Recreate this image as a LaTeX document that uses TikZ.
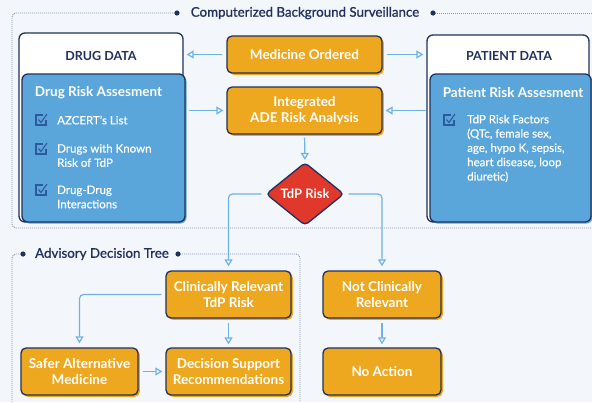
\documentclass[tikz,border=0pt]{standalone}
\usepackage{fontspec}
\setmainfont{Lato}
\usetikzlibrary{arrows.meta,shapes.geometric,calc,shadows}
\definecolor{bg}{HTML}{F3F6FB}
\definecolor{navy}{HTML}{22305E}
\definecolor{orangefill}{HTML}{EEA81F}
\definecolor{bluefill}{HTML}{5AA6DB}
\definecolor{lineblue}{HTML}{6DB3E8}
\definecolor{riskred}{HTML}{E0392B}
\definecolor{framegray}{HTML}{8C9BB5}
\definecolor{chkblue}{HTML}{2D5A9E}
\tikzset{
  orangebox/.style={draw=navy, line width=1.3pt, fill=orangefill, rounded corners=5pt,
    text=white, font=\bfseries\fontsize{13.5}{15.5}\selectfont, align=center,
    minimum width=155, minimum height=37, inner sep=0pt,
    drop shadow={shadow xshift=1.8pt, shadow yshift=-1.8pt, fill=orangefill, opacity=1}},
  datawhite/.style={draw=navy, line width=1.3pt, fill=white, rounded corners=6pt, inner sep=0pt},
  datablue/.style={draw=navy, line width=1.3pt, fill=bluefill, rounded corners=6pt, inner sep=0pt,
    drop shadow={shadow xshift=1.5pt, shadow yshift=-1.5pt, fill=bluefill, opacity=1}},
  arr/.style={draw=lineblue, line width=1.2pt, -{Triangle[open, length=7pt, width=8pt]}, rounded corners=4pt},
  frame/.style={draw=framegray, line width=0.9pt, dash pattern=on 1pt off 1pt},
  header/.style={text=navy, font=\bfseries\fontsize{12.5}{14}\selectfont},
  risktitle/.style={text=white, font=\bfseries\fontsize{13.5}{16}\selectfont},
  item/.style={text=white, font=\addfontfeature{FakeBold=0.4}\fontsize{11.5}{14.3}\selectfont, align=left, anchor=west, inner sep=0pt},
  sectitle/.style={text=navy, font=\addfontfeature{FakeBold=1}\fontsize{13.3}{15}\selectfont, inner sep=0pt},
  chk/.pic={
    \draw[chkblue, line width=1.1pt] (2,-5) -- (-5,-5) -- (-5,5) -- (5,5) -- (5,-0.5);
    \draw[chkblue, line width=1.1pt] (-2.5,-0.5) -- (0,2.5) -- (6,-6);
  }
}
\begin{document}
\begin{tikzpicture}[x=1pt,y=-1pt]
\fill[bg] (0,0) rectangle (592,402);
\useasboundingbox (0,0) rectangle (592,402);

% frames
\draw[frame, rounded corners=4pt] (177,13) -- (12,13) -- (12,228) -- (592,228);
\draw[frame] (433,13) -- (592,13);
\fill[navy] (177,13) circle (2.6);
\fill[navy] (433,13) circle (2.6);
\node[sectitle] (t1) at (305,13) {Computerized Background Surveillance};

\draw[frame, rounded corners=4pt] (23,254) -- (12,254) -- (12,402);
\draw[frame, rounded corners=4pt] (178,254) -- (300,254) -- (300,402);
\fill[navy] (23,254) circle (2.6);
\fill[navy] (178,254) circle (2.6);
\node[sectitle] (t2) at (102,254) {Advisory Decision Tree};

% drug data
\node[datawhite, minimum width=164, minimum height=189] (drug) at (101,127.5) {};
\node[datablue, minimum width=163, minimum height=148] (drugrisk) at (103.5,148) {};
\node[header] (drughead) at (101,56) {DRUG DATA};
\node[risktitle] (drugrt) at (98.5,93) {Drug Risk Assesment};
\pic at (41,120) {chk};
\pic at (41,149) {chk};
\pic at (41,190) {chk};
\node[item] (d1) at (57,120) {AZCERT's List};
\node[item] (d2) at (57,155.5) {Drugs with Known\\Risk of TdP};
\node[item] (d3) at (57,197) {Drug-Drug\\Interactions};

% patient data
\node[datawhite, minimum width=162, minimum height=187] (pat) at (508,128.5) {};
\node[datablue, minimum width=161, minimum height=148] (patrisk) at (510.5,148) {};
\node[header] (pathead) at (509,56) {PATIENT DATA};
\node[risktitle] (patrt) at (513,93) {Patient Risk Assesment};
\pic at (449,120) {chk};
\node[item] (p1) at (467,148.5) {TdP Risk Factors\\(QTc, female sex,\\age, hypo K, sepsis,\\heart disease, loop\\diuretic)};

% central boxes
\node[orangebox] (med) at (304.5,54.5) {Medicine Ordered};
\node[orangebox, minimum height=47] (ade) at (304.5,110.5) {Integrated\\ADE Risk Analysis};
\node[diamond, draw=navy, line width=1.3pt, fill=riskred, rounded corners=4pt,
      minimum width=78, minimum height=63, inner sep=0pt, text=white,
      font=\bfseries\fontsize{13}{14}\selectfont] (risk) at (305,194) {TdP Risk};

\node[orangebox, minimum width=125, minimum height=47] (clin) at (228.5,294.5) {Clinically Relevant\\TdP Risk};
\node[orangebox, minimum width=118, minimum height=47] (notc) at (382,294.5) {Not Clinically\\Relevant};
\node[orangebox, minimum width=117, minimum height=47] (safer) at (79.5,371.5) {Safer Alternative\\Medicine};
\node[orangebox, minimum width=125, minimum height=47] (dec) at (228.5,371.5) {Decision Support\\Recommendations};
\node[orangebox, minimum width=118, minimum height=47] (noact) at (382,371.5) {No Action};

% connectors
\draw[arr, shorten <=4pt, shorten >=3pt] (med.west) -- (med.west -| drug.east);
\draw[arr, shorten <=4pt, shorten >=3pt] (med.east) -- (med.east -| pat.west);
\draw[arr, shorten <=3pt, shorten >=3pt] (ade.west -| drugrisk.east) -- (ade.west);
\draw[arr, shorten <=3pt, shorten >=3pt] (ade.east -| patrisk.west) -- (ade.east);
\draw[arr, shorten <=3pt, shorten >=2pt] (ade.south) -- (risk.north);
\draw[arr, shorten <=4pt, shorten >=4pt] (risk.west) -| (clin.north);
\draw[arr, shorten <=4pt, shorten >=4pt] (risk.east) -| (notc.north);
\draw[arr, shorten <=4pt, shorten >=4pt] (clin.west) -| (safer.north);
\draw[arr, shorten <=4pt, shorten >=3pt] (clin.south) -- (dec.north);
\draw[arr, shorten <=4pt, shorten >=3pt] (notc.south) -- (noact.north);
\draw[arr, shorten <=4pt, shorten >=3pt] (safer.east) -- (dec.west);
\end{tikzpicture}
\end{document}
